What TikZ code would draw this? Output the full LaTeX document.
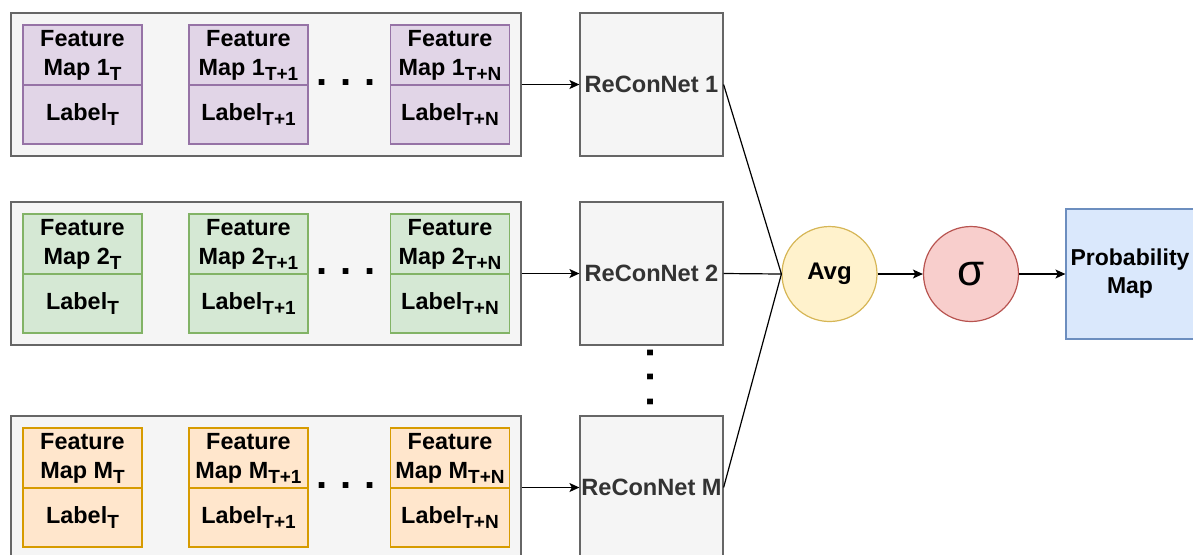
\documentclass[tikz,border=0pt]{standalone}
\usepackage{fontspec}
\setmainfont{Liberation Sans}
\usetikzlibrary{arrows.meta,positioning}
\definecolor{grayfill}{HTML}{F5F5F5}
\definecolor{grayline}{HTML}{666666}
\definecolor{purplefill}{HTML}{E1D5E7}
\definecolor{purpleline}{HTML}{9673A6}
\definecolor{greenfill}{HTML}{D5E8D4}
\definecolor{greenline}{HTML}{82B366}
\definecolor{orangefill}{HTML}{FFE6CC}
\definecolor{orangeline}{HTML}{D79B00}
\definecolor{yellowfill}{HTML}{FFF2CC}
\definecolor{yellowline}{HTML}{D6B656}
\definecolor{redfill}{HTML}{F8CECC}
\definecolor{redline}{HTML}{B85450}
\definecolor{bluefill}{HTML}{DAE8FC}
\definecolor{blueline}{HTML}{6C8EBF}
\definecolor{darktext}{HTML}{333333}
\newcommand\sbs[1]{\raisebox{-2.5pt}{\fontsize{9.5}{9.5}\selectfont #1}}

\begin{document}
\begin{tikzpicture}[>={Stealth[length=5pt,width=4.5pt,inset=1.2pt]}, x=0.5pt, y=-0.5pt, line width=0.6pt,
		font=\fontsize{11.7}{14.5}\selectfont\bfseries,
		group/.style={draw=grayline, fill=grayfill, inner sep=0pt, minimum width=255pt, minimum height=71.5pt},
		fmap/.style={draw=#1, inner sep=0pt, align=center, minimum width=59.5pt, minimum height=30pt},
		lbl/.style={draw=#1, inner sep=0pt, minimum width=59.5pt, minimum height=29.5pt},
		reconnet/.style={draw=grayline, fill=grayfill, text=darktext, inner sep=0pt, minimum width=71.5pt, minimum height=71.5pt, font=\fontsize{11.8}{14}\selectfont\bfseries},
		op/.style={circle, draw=#1, inner sep=0pt, minimum size=47.5pt},
		dots/.style={inner sep=0pt, font=\fontsize{20}{24}\selectfont\bfseries}]
		\useasboundingbox (0,0) rectangle (1193,554);
		% one row of feature maps per network
		\foreach \r/\fc/\dc/\y in {1/purplefill/purpleline/13, 2/greenfill/greenline/202, M/orangefill/orangeline/416} {
			\node[group] (grp\r) at (266,{\y+71.5}) {};
			\node[fmap=\dc, fill=\fc] (fm\r-a) at (82.5,{\y+42}) {Feature\\Map \r\sbs{T}};
			\node[lbl=\dc, fill=\fc] (lb\r-a) at (82.5,{\y+101.5}) {Label\sbs{T}};
			\node[fmap=\dc, fill=\fc] (fm\r-b) at (248.5,{\y+42}) {Feature\\Map \r\sbs{T+1}};
			\node[lbl=\dc, fill=\fc] (lb\r-b) at (248.5,{\y+101.5}) {Label\sbs{T+1}};
			\node[fmap=\dc, fill=\fc] (fm\r-c) at (450,{\y+42}) {Feature\\Map \r\sbs{T+N}};
			\node[lbl=\dc, fill=\fc] (lb\r-c) at (450,{\y+101.5}) {Label\sbs{T+N}};
			\node[dots] (hd\r) at (346,{\y+70}) {.\,\,.\,\,.};
			\node[reconnet] (rcn\r) at (651.5,{\y+71.5}) {ReConNet \r};
			\draw[->] (grp\r) -- (rcn\r);
		}
		\node[dots, rotate=90] (vd) at (651,377) {.\,\,.\,\,.};
		\node[op=yellowline, fill=yellowfill, font=\fontsize{12}{14}\selectfont\bfseries] (avg) at (829.5,274) {Avg};
		\node[op=redline, fill=redfill, font=\fontsize{22}{26}\selectfont] (sig) at (971,274) {σ};
		\node[draw=blueline, fill=bluefill, align=center, inner sep=0pt, minimum width=64pt, minimum height=65pt,
			font=\fontsize{11.5}{14}\selectfont\bfseries] (prob) at (1130,274) {Probability\\Map};
		\draw (rcn1.east) -- (avg.west);
		\draw (rcn2.east) -- (avg.west);
		\draw (rcnM.east) -- (avg.west);
		\draw[->] (avg) -- (sig);
		\draw[->] (sig) -- (prob);
	\end{tikzpicture}
\end{document}
